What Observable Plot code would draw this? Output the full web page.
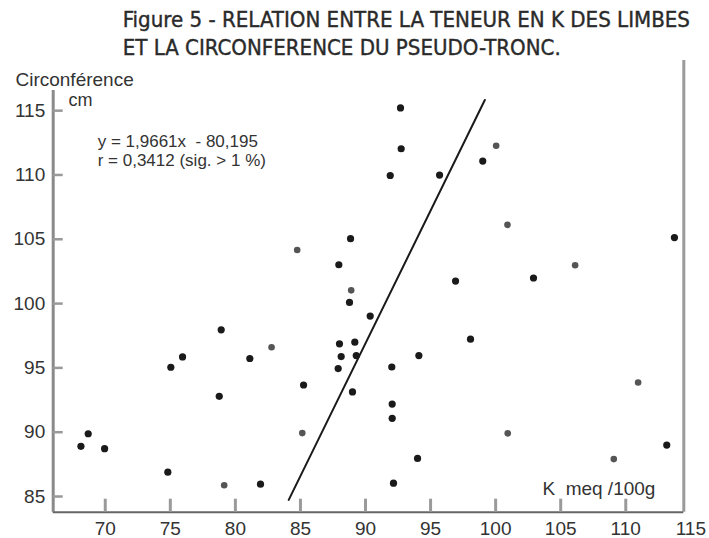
<!DOCTYPE html>
<html>
<head>
<meta charset="utf-8">
<script src="https://cdn.jsdelivr.net/npm/d3@7"></script>
<script src="https://cdn.jsdelivr.net/npm/@observablehq/plot@0.6"></script>
<style>
  body { margin: 0; background: #fff; }
  #head { display: block; }
</style>
</head>
<body>
<svg id="head" width="709" height="60" font-family="'Liberation Sans Narrow','DejaVu Sans Condensed','Liberation Sans',sans-serif" font-size="20.5" fill="#2a2a2a" stroke="#2a2a2a" stroke-width="0.35">
  <text x="122.7" y="26.7" textLength="567.3" lengthAdjust="spacingAndGlyphs">Figure 5 - RELATION ENTRE LA TENEUR EN K DES LIMBES</text>
  <text x="122.7" y="54.5" textLength="438" lengthAdjust="spacingAndGlyphs">ET LA CIRCONFERENCE DU PSEUDO-TRONC.</text>
</svg>
<div id="chart"></div>
<script>
// ---- data ----
// K content of leaf blades (meq/100g) and pseudo-trunk circumference (cm)
const blackK = [88.85, 87.95, 88.77, 78.91, 88.0, 89.18, 92.74, 99.01, 91.9, 95.69,
                113.74, 102.91, 96.92, 90.36, 98.07, 75.94, 75.04, 81.11, 78.76, 68.69,
                68.13, 69.95, 74.81, 81.93, 85.24, 88.13, 89.29, 87.9, 89.0, 94.1,
                92.02, 92.05, 92.05, 94.0, 92.15, 113.15, 92.69];
const blackC = [105.05, 103.02, 100.09, 97.96, 96.87, 97.0, 112.04, 111.08, 109.96, 109.99,
                105.13, 101.99, 101.75, 99.03, 97.23, 95.85, 95.05, 95.73, 92.79, 89.88,
                88.9, 88.72, 86.89, 85.96, 93.67, 95.88, 95.96, 94.95, 93.13, 95.96,
                95.07, 92.19, 91.08, 87.96, 86.04, 89.0, 115.21];
// faint (greyish) points in the scan
const greyK = [84.75, 88.9, 82.78, 100.04, 100.91, 106.11, 79.14, 85.14, 100.93, 110.95, 109.08];
const greyC = [104.17, 101.03, 96.61, 112.27, 106.12, 102.98, 85.88, 89.93, 89.91, 93.86, 87.91];
// regression line as drawn (end points)
const lineK = [84.1, 99.17];
const lineC = [84.74, 115.83];

const xDomain = [66.0, 114.46];
const yDomain = [83.78, 118.9];
const yAxisTop = 116.57;
const xTickMarks = [70, 75, 80, 85, 90, 95, 100, 105, 110];
const xTickLabels = [70, 75, 80, 85, 90, 95, 100, 105, 110, 115];
const yTicks = [85, 90, 95, 100, 105, 110, 115];

const equation = "y = 1,9661x  - 80,195\nr = 0,3412 (sig. > 1 %)";
const yTitle = "Circonférence";
const yUnit = "cm";
const xTitle = "K  meq /100g";

const black = blackK.map((k, i) => ({k, c: blackC[i]}));
const grey = greyK.map((k, i) => ({k, c: greyC[i]}));
const reg = lineK.map((k, i) => ({k, c: lineC[i]}));

const chart = Plot.plot({
  width: 709,
  height: 478,
  marginLeft: 52.7,
  marginRight: 25.7,
  marginTop: 0,
  marginBottom: 26.3,
  x: {domain: xDomain, label: null},
  y: {domain: yDomain, label: null},
  style: {
    fontFamily: "'Liberation Sans', Arial, sans-serif",
    fontSize: "19px",
    color: "#333",
    background: "#fff",
    overflow: "visible",
    whiteSpace: "pre"
  },
  marks: [
    // frame lines
    Plot.ruleX([xDomain[0]], {y1: yDomain[0], y2: yAxisTop, stroke: "#8a8a8a", strokeWidth: 3}),
    Plot.ruleX([xDomain[1]], {y1: yDomain[0], y2: yDomain[1], stroke: "#9a9a9a", strokeWidth: 3}),
    Plot.ruleY([yDomain[0]], {x1: xDomain[0], x2: xDomain[1], stroke: "#666", strokeWidth: 2}),
    // ticks (inward)
    Plot.axisY(yTicks, {anchor: "left", tickSize: -10, stroke: "#999", strokeWidth: 2.5, tickFormat: () => ""}),
    Plot.axisY(yTicks, {anchor: "left", tickSize: 0, tickPadding: 8, fill: "#333"}),
    Plot.axisX(xTickMarks, {anchor: "bottom", tickSize: -13, stroke: "#9a9a9a", strokeWidth: 3, tickFormat: () => ""}),
    Plot.axisX(xTickLabels, {anchor: "bottom", tickSize: 0, tickPadding: 9, fill: "#333"}),
    // regression line
    Plot.line(reg, {x: "k", y: "c", stroke: "#1a1a1a", strokeWidth: 2}),
    // points
    Plot.dot(grey, {x: "k", y: "c", r: 3.3, fill: "#555", stroke: null}),
    Plot.dot(black, {x: "k", y: "c", r: 3.6, fill: "#1a1a1a", stroke: null}),
    // annotations
    Plot.text([equation], {x: () => 69.42, y: () => 111.9, text: d => d, textAnchor: "start", lineHeight: 1.12, fontSize: 17, fill: "#333"}),
    Plot.text([yTitle], {x: () => 63.1, y: () => 117.43, text: d => d, textAnchor: "start", fontSize: 19, fill: "#333"}),
    Plot.text([yUnit], {x: () => 67.18, y: () => 115.81, text: d => d, textAnchor: "start", fontSize: 18, fill: "#333"}),
    Plot.text([xTitle], {x: () => 112.28, y: () => 85.6, text: d => d, textAnchor: "end", fontSize: 19, fill: "#333"})
  ]
});
chart.querySelectorAll("text").forEach(t => t.setAttribute("xml:space", "preserve"));
document.getElementById("chart").appendChild(chart);
</script>
</body>
</html>
